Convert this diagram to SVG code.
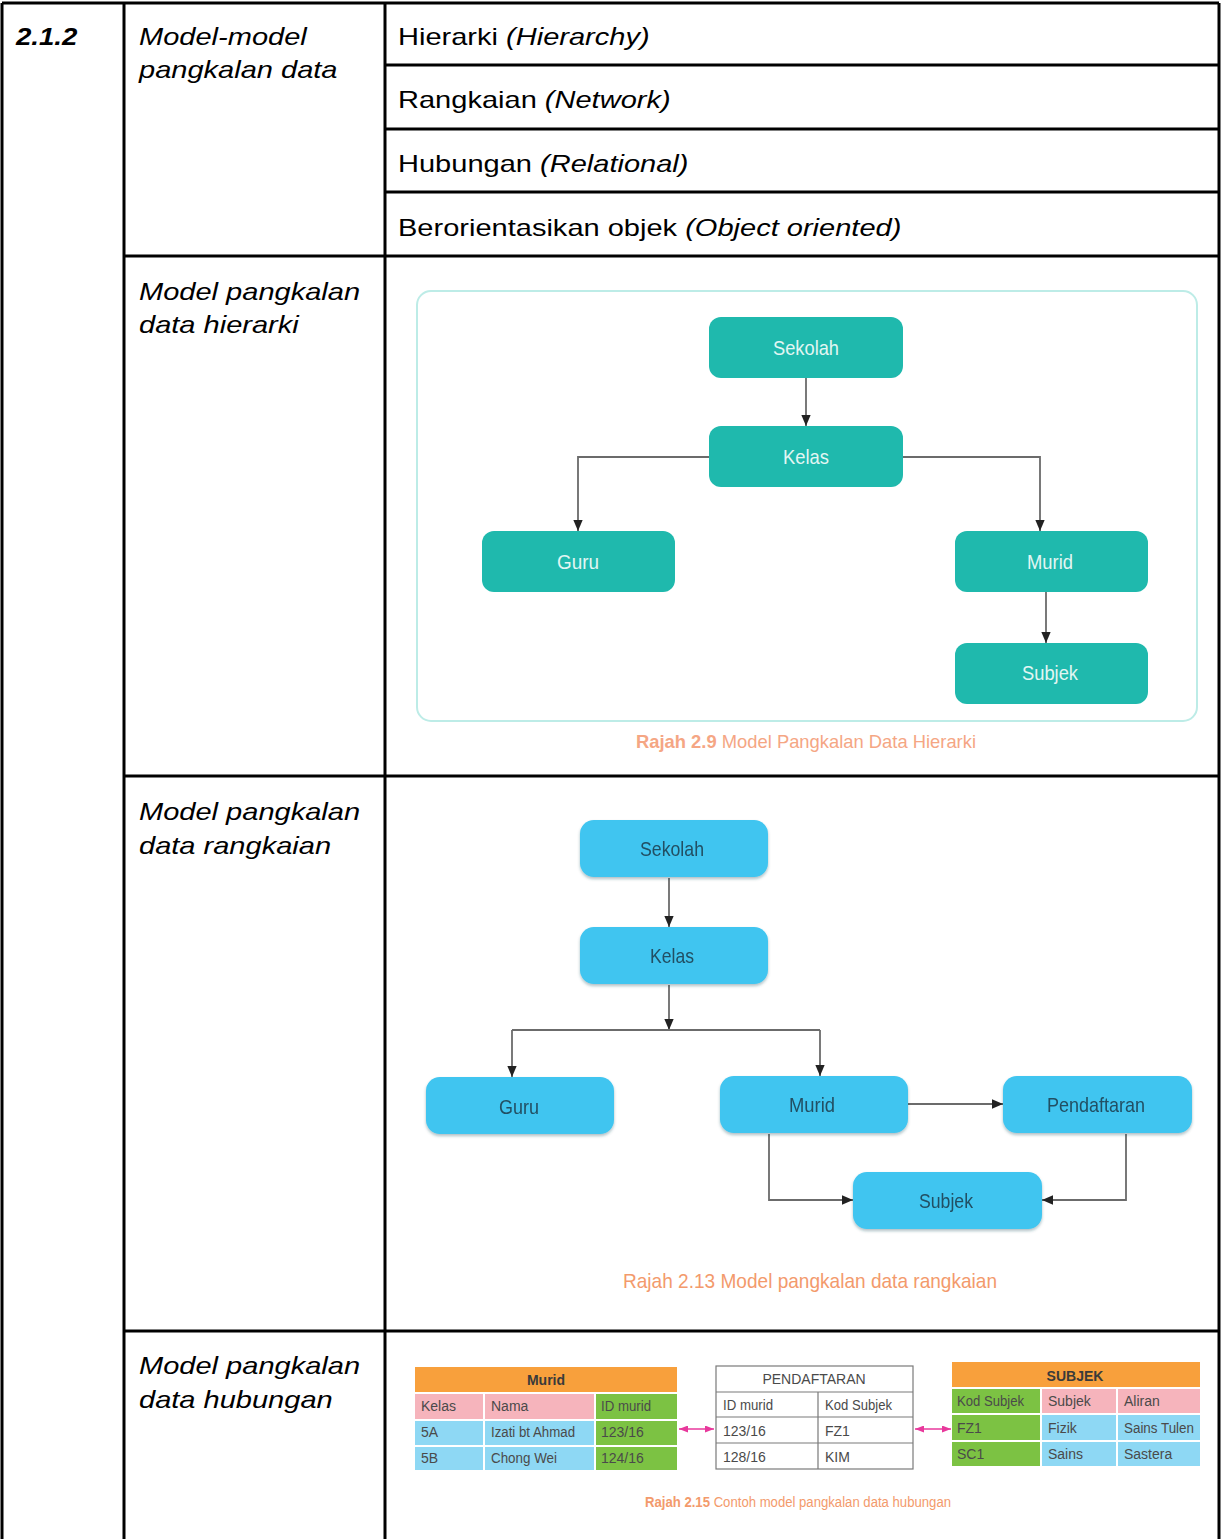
<svg xmlns="http://www.w3.org/2000/svg" width="1221" height="1539" viewBox="0 0 1221 1539">
  <defs>
    <style>
      .grid { stroke: #000; stroke-width: 3; fill: none; }
      .cell { font-family: "Liberation Sans", Arial, sans-serif; font-size: 24px; fill: #000; }
      .it { font-style: italic; }
      .hnode { fill: #1fb9ad; }
      .hlabel { font-family: "Liberation Sans", Arial, sans-serif; font-size: 21px; fill: #e2f6f3; text-anchor: middle; }
      .nnode { fill: #3fc5f0; }
      .nlabel { font-family: "Liberation Sans", Arial, sans-serif; font-size: 21px; fill: #234f63; text-anchor: middle; }
      .edge { fill: none; stroke: #6b6b6b; stroke-width: 1.8; }
      .cap { font-family: "Liberation Sans", Arial, sans-serif; text-anchor: middle; }
      .tt { font-family: "Liberation Sans", Arial, sans-serif; font-size: 14px; fill: #4a4a4a; }
      .th { font-family: "Liberation Sans", Arial, sans-serif; font-size: 14px; fill: #3a3a3a; font-weight: bold; text-anchor: middle; }
      .org { fill: #f8a03c; }
      .pnk { fill: #f6b4bc; }
      .grn { fill: #7cc243; }
      .blu { fill: #8ed8f4; }
      .link { fill: none; stroke: #e8389c; stroke-width: 1.6; }
    </style>
    <marker id="arr" markerUnits="userSpaceOnUse" markerWidth="11" markerHeight="13" viewBox="0 0 13 11" refX="13" refY="5.5" orient="auto">
      <path d="M0,0 L13,5.5 L0,11 z" fill="#222"/>
    </marker>
    <marker id="parr" markerUnits="userSpaceOnUse" markerWidth="9" markerHeight="7" viewBox="0 0 9 7" refX="9" refY="3.5" orient="auto-start-reverse">
      <path d="M0,0 L9,3.5 L0,7 z" fill="#e8389c"/>
    </marker>
    <filter id="shadow" x="-10%" y="-20%" width="120%" height="150%">
      <feDropShadow dx="0" dy="2" stdDeviation="1.5" flood-color="#1a4a5a" flood-opacity="0.35"/>
    </filter>
  </defs>

  <rect width="1221" height="1539" fill="#fff"/>

  <!-- table grid -->
  <g id="table-grid">
    <path class="grid" d="M2,3 H1219 M2,3 V1539 M124,3 V1539 M385,3 V1539 M1219,3 V1539"/>
    <path class="grid" d="M385,65 H1219 M385,129 H1219 M385,192 H1219 M124,256 H1219 M124,776 H1219 M124,1331 H1219"/>
  </g>

  <!-- table text -->
  <g id="table-text">
    <text class="cell it" font-weight="bold" transform="translate(16,45) scale(1.15,1)">2.1.2</text>
    <text class="cell it" transform="translate(139,45) scale(1.21,1)">Model-model</text>
    <text class="cell it" transform="translate(139,78) scale(1.21,1)">pangkalan data</text>
    <text class="cell" transform="translate(398,45) scale(1.21,1)">Hierarki <tspan class="it">(Hierarchy)</tspan></text>
    <text class="cell" transform="translate(398,108) scale(1.21,1)">Rangkaian <tspan class="it">(Network)</tspan></text>
    <text class="cell" transform="translate(398,172) scale(1.21,1)">Hubungan <tspan class="it">(Relational)</tspan></text>
    <text class="cell" transform="translate(398,236) scale(1.21,1)">Berorientasikan objek <tspan class="it">(Object oriented)</tspan></text>
    <text class="cell it" transform="translate(139,300) scale(1.21,1)">Model pangkalan</text>
    <text class="cell it" transform="translate(139,333) scale(1.21,1)">data hierarki</text>
    <text class="cell it" transform="translate(139,820) scale(1.21,1)">Model pangkalan</text>
    <text class="cell it" transform="translate(139,854) scale(1.21,1)">data rangkaian</text>
    <text class="cell it" transform="translate(139,1374) scale(1.21,1)">Model pangkalan</text>
    <text class="cell it" transform="translate(139,1408) scale(1.21,1)">data hubungan</text>
  </g>

  <!-- hierarchical model -->
  <rect id="hier-frame" x="417" y="291" width="780" height="430" rx="14" fill="none" stroke="#bdece7" stroke-width="2"/>
  <g id="hier-edges">
    <path class="edge" d="M806,378 V426" marker-end="url(#arr)"/>
    <path class="edge" d="M709,457 H578 V531" marker-end="url(#arr)"/>
    <path class="edge" d="M903,457 H1040 V531" marker-end="url(#arr)"/>
    <path class="edge" d="M1046,592 V643" marker-end="url(#arr)"/>
  </g>
  <g id="h-sekolah"><rect class="hnode" x="709" y="317" width="194" height="61" rx="12"/><text class="hlabel" x="806" y="355" textLength="66" lengthAdjust="spacingAndGlyphs">Sekolah</text></g>
  <g id="h-kelas"><rect class="hnode" x="709" y="426" width="194" height="61" rx="12"/><text class="hlabel" x="806" y="464" textLength="46" lengthAdjust="spacingAndGlyphs">Kelas</text></g>
  <g id="h-guru"><rect class="hnode" x="482" y="531" width="193" height="61" rx="12"/><text class="hlabel" x="578" y="569" textLength="42" lengthAdjust="spacingAndGlyphs">Guru</text></g>
  <g id="h-murid"><rect class="hnode" x="955" y="531" width="193" height="61" rx="12"/><text class="hlabel" x="1050" y="569" textLength="46" lengthAdjust="spacingAndGlyphs">Murid</text></g>
  <g id="h-subjek"><rect class="hnode" x="955" y="643" width="193" height="61" rx="12"/><text class="hlabel" x="1050" y="680" textLength="56" lengthAdjust="spacingAndGlyphs">Subjek</text></g>
  <text id="hier-caption" class="cap" x="806" y="748" font-size="19" fill="#f5a684" textLength="340" lengthAdjust="spacingAndGlyphs"><tspan font-weight="bold">Rajah 2.9</tspan> Model Pangkalan Data Hierarki</text>

  <!-- network model -->
  <g id="net-edges">
    <path class="edge" d="M669,878 V927" marker-end="url(#arr)"/>
    <path class="edge" d="M669,985 V1030" marker-end="url(#arr)"/>
    <path class="edge" d="M512,1030 H820"/>
    <path class="edge" d="M512,1030 V1077" marker-end="url(#arr)"/>
    <path class="edge" d="M820,1030 V1076" marker-end="url(#arr)"/>
    <path class="edge" d="M908,1104 H1003" marker-end="url(#arr)"/>
    <path class="edge" d="M769,1134 V1200 H853" marker-end="url(#arr)"/>
    <path class="edge" d="M1126,1134 V1200 H1042" marker-end="url(#arr)"/>
  </g>
  <g id="n-sekolah" filter="url(#shadow)"><rect class="nnode" x="580" y="820" width="188" height="57" rx="14"/><text class="nlabel" x="672" y="856" textLength="64" lengthAdjust="spacingAndGlyphs">Sekolah</text></g>
  <g id="n-kelas" filter="url(#shadow)"><rect class="nnode" x="580" y="927" width="188" height="57" rx="14"/><text class="nlabel" x="672" y="963" textLength="44" lengthAdjust="spacingAndGlyphs">Kelas</text></g>
  <g id="n-guru" filter="url(#shadow)"><rect class="nnode" x="426" y="1077" width="188" height="57" rx="14"/><text class="nlabel" x="519" y="1114" textLength="40" lengthAdjust="spacingAndGlyphs">Guru</text></g>
  <g id="n-murid" filter="url(#shadow)"><rect class="nnode" x="720" y="1076" width="188" height="57" rx="14"/><text class="nlabel" x="812" y="1112" textLength="46" lengthAdjust="spacingAndGlyphs">Murid</text></g>
  <g id="n-pendaftaran" filter="url(#shadow)"><rect class="nnode" x="1003" y="1076" width="189" height="57" rx="14"/><text class="nlabel" x="1096" y="1112" textLength="98" lengthAdjust="spacingAndGlyphs">Pendaftaran</text></g>
  <g id="n-subjek" filter="url(#shadow)"><rect class="nnode" x="853" y="1172" width="189" height="57" rx="14"/><text class="nlabel" x="946" y="1208" textLength="54" lengthAdjust="spacingAndGlyphs">Subjek</text></g>
  <text id="net-caption" class="cap" x="810" y="1288" font-size="21" fill="#f39a6c" textLength="374" lengthAdjust="spacingAndGlyphs">Rajah 2.13 Model pangkalan data rangkaian</text>

  <!-- relational model: Murid table -->
  <g id="t-murid">
    <rect class="org" x="415" y="1367" width="262" height="25"/>
    <rect class="pnk" x="415" y="1394" width="68" height="25"/>
    <rect class="pnk" x="485" y="1394" width="109" height="25"/>
    <rect class="grn" x="596" y="1394" width="81" height="25"/>
    <rect class="blu" x="415" y="1421" width="68" height="24"/>
    <rect class="blu" x="485" y="1421" width="109" height="24"/>
    <rect class="grn" x="596" y="1421" width="81" height="24"/>
    <rect class="blu" x="415" y="1447" width="68" height="23"/>
    <rect class="blu" x="485" y="1447" width="109" height="23"/>
    <rect class="grn" x="596" y="1447" width="81" height="23"/>
    <text class="th" x="546" y="1385">Murid</text>
    <text class="tt" x="421" y="1411">Kelas</text>
    <text class="tt" x="491" y="1411">Nama</text>
    <text class="tt" x="601" y="1411" textLength="50" lengthAdjust="spacingAndGlyphs">ID murid</text>
    <text class="tt" x="421" y="1437">5A</text>
    <text class="tt" x="491" y="1437" textLength="84" lengthAdjust="spacingAndGlyphs">Izati bt Ahmad</text>
    <text class="tt" x="601" y="1437">123/16</text>
    <text class="tt" x="421" y="1463">5B</text>
    <text class="tt" x="491" y="1463" textLength="66" lengthAdjust="spacingAndGlyphs">Chong Wei</text>
    <text class="tt" x="601" y="1463">124/16</text>
  </g>

  <!-- relational model: Pendaftaran table -->
  <g id="t-pendaftaran">
    <rect x="716" y="1366" width="197" height="103" fill="#fff" stroke="#7a7a7a" stroke-width="1.2"/>
    <path d="M716,1392 H913 M716,1417 H913 M716,1443 H913 M818,1392 V1469" stroke="#7a7a7a" stroke-width="1.2" fill="none"/>
    <text class="tt" x="814" y="1384" text-anchor="middle" fill="#3a3a3a">PENDAFTARAN</text>
    <text class="tt" x="723" y="1410" textLength="50" lengthAdjust="spacingAndGlyphs">ID murid</text>
    <text class="tt" x="825" y="1410" textLength="67" lengthAdjust="spacingAndGlyphs">Kod Subjek</text>
    <text class="tt" x="723" y="1436">123/16</text>
    <text class="tt" x="825" y="1436">FZ1</text>
    <text class="tt" x="723" y="1462">128/16</text>
    <text class="tt" x="825" y="1462">KIM</text>
  </g>

  <!-- relational model: Subjek table -->
  <g id="t-subjek">
    <rect class="org" x="952" y="1362" width="248" height="25"/>
    <rect class="grn" x="952" y="1389" width="88" height="24"/>
    <rect class="pnk" x="1042" y="1389" width="74" height="24"/>
    <rect class="pnk" x="1118" y="1389" width="82" height="24"/>
    <rect class="grn" x="952" y="1415" width="88" height="25"/>
    <rect class="blu" x="1042" y="1415" width="74" height="25"/>
    <rect class="blu" x="1118" y="1415" width="82" height="25"/>
    <rect class="grn" x="952" y="1442" width="88" height="24"/>
    <rect class="blu" x="1042" y="1442" width="74" height="24"/>
    <rect class="blu" x="1118" y="1442" width="82" height="24"/>
    <text class="th" x="1075" y="1381">SUBJEK</text>
    <text class="tt" x="957" y="1406" textLength="67" lengthAdjust="spacingAndGlyphs">Kod Subjek</text>
    <text class="tt" x="1048" y="1406">Subjek</text>
    <text class="tt" x="1124" y="1406">Aliran</text>
    <text class="tt" x="957" y="1433">FZ1</text>
    <text class="tt" x="1048" y="1433">Fizik</text>
    <text class="tt" x="1124" y="1433" textLength="70" lengthAdjust="spacingAndGlyphs">Sains Tulen</text>
    <text class="tt" x="957" y="1459">SC1</text>
    <text class="tt" x="1048" y="1459">Sains</text>
    <text class="tt" x="1124" y="1459">Sastera</text>
  </g>

  <!-- key links between tables -->
  <g id="rel-links">
    <path class="link" d="M679,1429 H714" marker-start="url(#parr)" marker-end="url(#parr)"/>
    <path class="link" d="M915,1429 H951" marker-start="url(#parr)" marker-end="url(#parr)"/>
  </g>
  <text id="rel-caption" class="cap" x="798" y="1507" font-size="14" fill="#f39a6c" textLength="306" lengthAdjust="spacingAndGlyphs"><tspan font-weight="bold">Rajah 2.15</tspan> Contoh model pangkalan data hubungan</text>
</svg>
